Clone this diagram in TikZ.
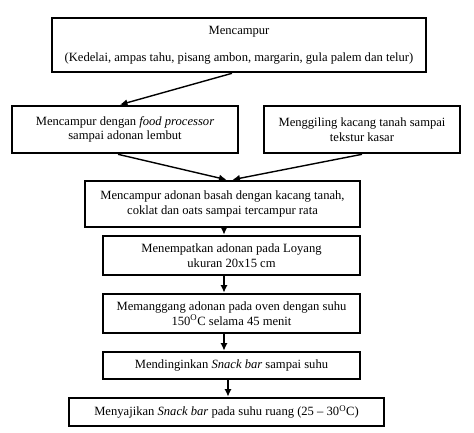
\documentclass[tikz,border=0pt]{standalone}
\usepackage{fontspec}
\setmainfont{Liberation Serif}
\usepackage{tikz}
\usetikzlibrary{arrows.meta}
\usetikzlibrary{positioning}
\tikzset{
  stepnode/.style = {draw=black, line width=2.6pt, rectangle, align=center,
    text centered, inner sep=0pt, font=\fontsize{12.6}{14.5}\selectfont},% kotak proses
  flow/.style = {-{Latex[length=7.5pt,width=7pt]}, line width=1.4pt}% panah alur
}

\begin{document}
\begin{tikzpicture}[x=1pt,y=-1pt]
\useasboundingbox (0,0) rectangle (474,432);
\node [stepnode, minimum width=374pt, minimum height=54pt] (mix) at (239,45)
  {Mencampur\\[13pt](Kedelai, ampas tahu, pisang ambon, margarin, gula palem dan telur)};
\node [stepnode, minimum width=226pt, minimum height=47pt] (fp) at (125,129.5)
  {Mencampur dengan \textit{food processor}\\sampai adonan lembut};
\node [stepnode, minimum width=196pt, minimum height=47pt] (grind) at (362,129.5)
  {Menggiling kacang tanah sampai\\tekstur kasar};
\node [stepnode, minimum width=275pt, minimum height=46pt] (wet) at (222.5,204)
  {Mencampur adonan basah dengan kacang tanah,\\coklat dan oats sampai tercampur rata};
\node [stepnode, minimum width=257pt, minimum height=39pt] (pan) at (231.5,255.5)
  {Menempatkan adonan pada Loyang\\ukuran 20x15 cm};
\node [stepnode, minimum width=257pt, minimum height=39pt] (bake) at (231.5,313.5)
  {Memanggang adonan pada oven dengan suhu\\150\textsuperscript{O}C selama 45 menit};
\node [stepnode, minimum width=257pt, minimum height=27pt] (cool) at (231.5,365.5)
  {Mendinginkan \textit{Snack bar} sampai suhu};
\node [stepnode, minimum width=315pt, minimum height=28pt] (serve) at (226.5,412)
  {Menyajikan \textit{Snack bar} pada suhu ruang (25 -- 30\textsuperscript{O}C)};

\draw [flow] ([xshift=-7pt]mix.south) -- ([xshift=-5pt]fp.north);
\draw [flow] ([xshift=-7pt]fp.south) -- ([xshift=4pt]wet.north);
\draw [flow] ([xshift=0pt]grind.south) -- ([xshift=10pt]wet.north);
\draw [flow] ([xshift=1.5pt]wet.south) -- ([xshift=-7.5pt]pan.north);
\draw [flow] ([xshift=-7.5pt]pan.south) -- ([xshift=-7.5pt]bake.north);
\draw [flow] ([xshift=-7.5pt]bake.south) -- ([xshift=-7.5pt]cool.north);
\draw [flow] ([xshift=-3.5pt]cool.south) -- ([xshift=1.5pt]serve.north);
\end{tikzpicture}
\end{document}
